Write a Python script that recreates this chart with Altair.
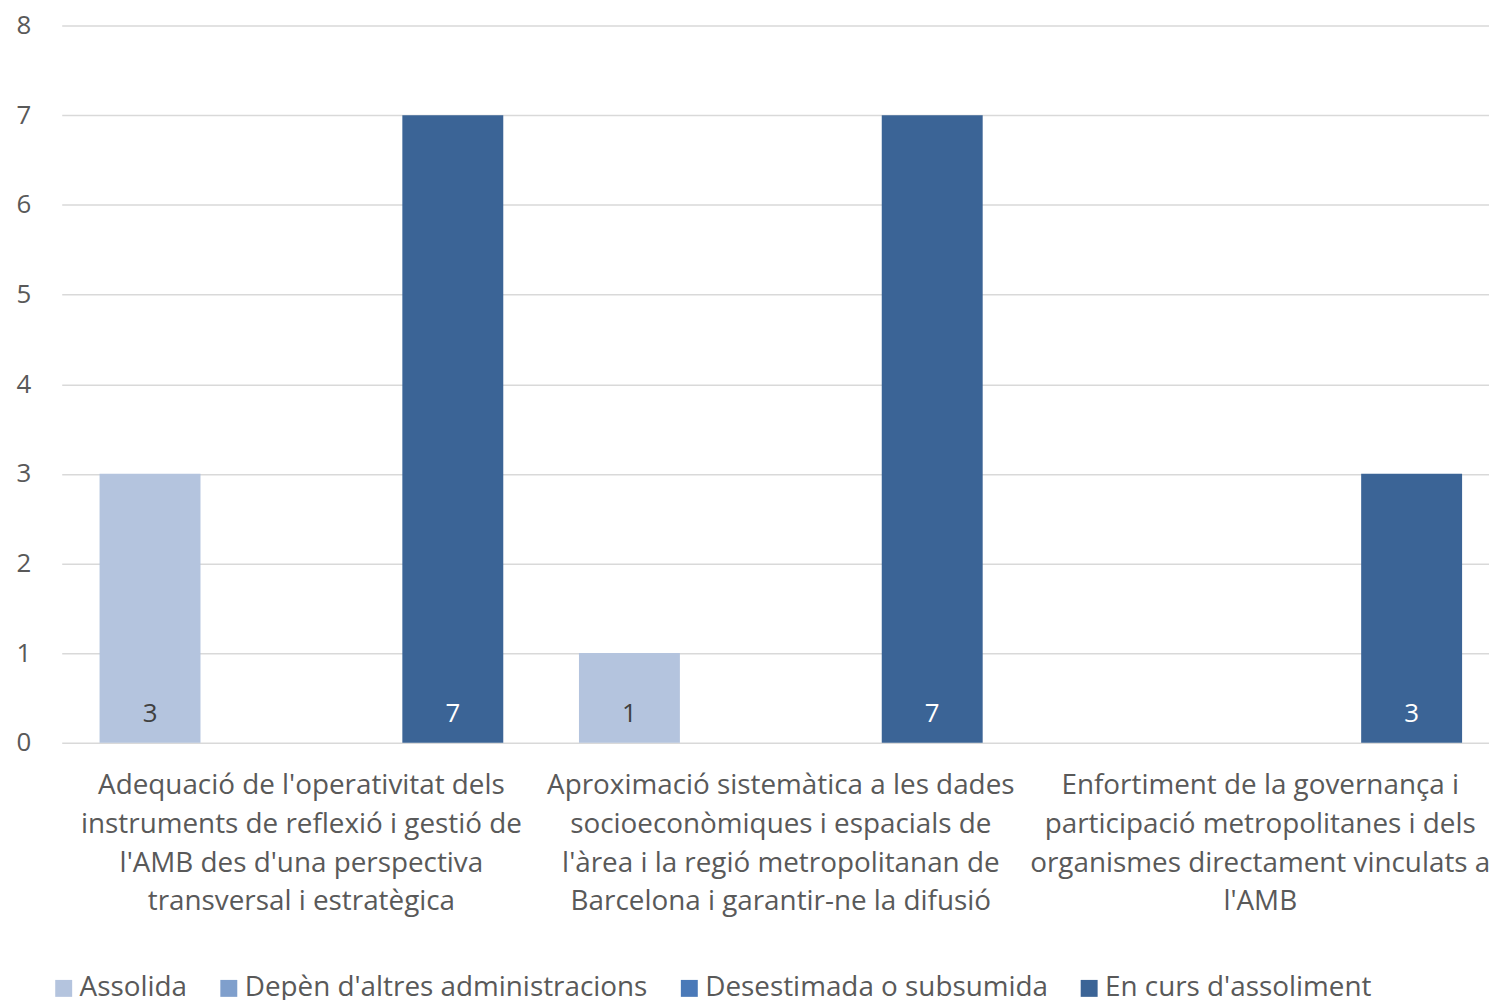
import altair as alt
import pandas as pd

categories = [
    "Adequació de l'operativitat dels|instruments de reflexió i gestió de|l'AMB des d'una perspectiva|transversal i estratègica",
    "Aproximació sistemàtica a les dades|socioeconòmiques i espacials de|l'àrea i la regió metropolitanan de|Barcelona i garantir-ne la difusió",
    "Enfortiment de la governança i|participació metropolitanes i dels|organismes directament vinculats a|l'AMB",
]
series = ["Assolida", "Depèn d'altres administracions", "Desestimada o subsumida", "En curs d'assoliment"]
values_assolida = [3, 1, 0]
values_depen = [0, 0, 0]
values_desestimada = [0, 0, 0]
values_encurs = [7, 7, 3]
colors = ["#b4c4de", "#7f9fcc", "#4a79b8", "#3b6496"]

rows = []
for s, vals in zip(series, [values_assolida, values_depen, values_desestimada, values_encurs]):
    for c, v in zip(categories, vals):
        rows.append({"category": c, "series": s, "value": v, "base": 0})
df = pd.DataFrame(rows)

FONT = "Open Sans"

x_enc = alt.X("category:N", sort=categories,
              scale=alt.Scale(paddingInner=0, paddingOuter=0),
              axis=alt.Axis(title=None, labelAngle=0, ticks=False, domain=False,
                            labelExpr="split(datum.label, '|')",
                            labelFontSize=28, labelColor="#595959", labelFont=FONT,
                            labelLineHeight=39, labelPadding=29, labelLimit=0))
xoff = alt.XOffset("series:N", sort=series,
                   scale=alt.Scale(domain=series, paddingInner=0, paddingOuter=0.375))

bars = alt.Chart(df).mark_bar().encode(
    x=x_enc,
    xOffset=xoff,
    y=alt.Y("value:Q", scale=alt.Scale(domain=[0, 8], nice=False),
            axis=alt.Axis(title=None, values=list(range(0, 9)), format="d",
                          ticks=False, domain=False,
                          grid=True, gridColor="#d9d9d9", gridWidth=1.5,
                          labelFontSize=26, labelColor="#595959", labelFont=FONT,
                          labelPadding=31)),
    color=alt.Color("series:N", sort=series,
                    scale=alt.Scale(domain=series, range=colors),
                    legend=alt.Legend(title=None, orient="none", direction="horizontal",
                                      legendX=-12, legendY=954,
                                      symbolType="square", symbolSize=290,
                                      symbolStrokeWidth=0, symbolOpacity=1,
                                      labelFontSize=28, labelColor="#595959", labelFont=FONT,
                                      columnPadding=27, labelOffset=2, labelLimit=0)),
)

texts = alt.Chart(df[df["value"] > 0]).mark_text(
    fontSize=26, font=FONT, baseline="middle", dy=-29
).encode(
    x=alt.X("category:N", sort=categories),
    xOffset=alt.XOffset("series:N", sort=series),
    y=alt.Y("base:Q"),
    text=alt.Text("value:Q", format="d"),
    color=alt.condition(alt.datum.series == "Assolida", alt.value("#404040"), alt.value("#ffffff")),
)

chart = alt.layer(bars, texts).properties(
    width=1446, height=721,
    autosize=alt.AutoSizeParams(type="none"),
    padding={"left": 54, "top": 15, "right": -11, "bottom": 256},
).configure_view(stroke=None).configure_axisX(grid=False)

chart.save("out.html", embed_options={"renderer": "svg", "actions": False})
